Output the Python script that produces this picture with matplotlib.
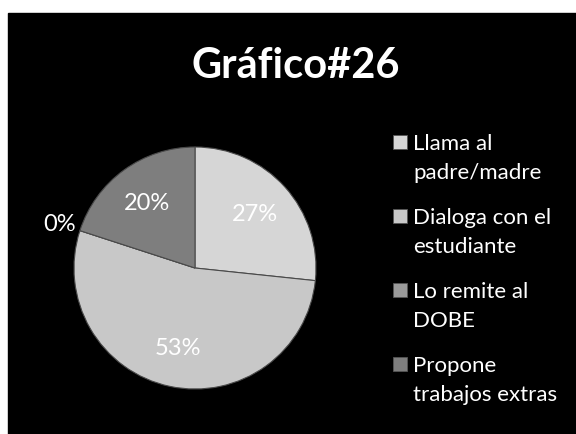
import numpy as np
import matplotlib.pyplot as plt
from matplotlib.patches import Rectangle

categorias = ["Llama al\npadre/madre", "Dialoga con el\nestudiante",
              "Lo remite al\nDOBE", "Propone\ntrabajos extras"]
valores = [4, 8, 0, 3]
etiquetas = ["27%", "53%", "0%", "20%"]
colores = ["#d6d6d6", "#c8c8c8", "#9a9a9a", "#7e7e7e"]

plt.rcParams['font.family'] = ['Lato', 'DejaVu Sans']

W, H = 576, 435
fig = plt.figure(figsize=(W / 100, H / 100), dpi=100, facecolor="white")

# fondo negro del grafico
fig.patches.append(Rectangle((8 / W, 0), 1 - 8 / W, 1 - 14 / H,
                             transform=fig.transFigure, color="black", zorder=-5))

fig.text(296 / W, 1 - 66 / H, "Gráfico#26", color="white", fontsize=30,
         fontweight="bold", ha="center", va="center")

# pastel
cx, cy, r = 195, 269, 121
ax = fig.add_axes([(cx - r) / W, (H - cy - r) / H, 2 * r / W, 2 * r / H])
ax.set_zorder(2)
wedges, _ = ax.pie(valores, colors=colores, startangle=90, counterclock=False,
                   radius=1, wedgeprops=dict(edgecolor="#4a4a4a", linewidth=0.8))
ax.set_xlim(-1, 1)
ax.set_ylim(-1, 1)
ax.axis("off")

for w, v, t in zip(wedges, valores, etiquetas):
    ang = np.deg2rad((w.theta1 + w.theta2) / 2)
    d = 0.67 if v > 0 else 1.18
    ax.text(d * np.cos(ang), d * np.sin(ang), t, color="white", fontsize=17,
            ha="center", va="center", clip_on=False)

# leyenda
y0 = 143
for i, (c, col) in enumerate(zip(categorias, colores)):
    y = y0 + i * 74
    fig.patches.append(Rectangle((393 / W, 1 - (y + 7) / H), 14 / W, 14 / H,
                                 transform=fig.transFigure, facecolor=col,
                                 edgecolor="#555555", linewidth=0.6))
    fig.text(413 / W, 1 - (y - 9) / H, c, color="white", fontsize=16,
             ha="left", va="top", linespacing=1.55)

fig.savefig("out.png", dpi=100, facecolor="white")
